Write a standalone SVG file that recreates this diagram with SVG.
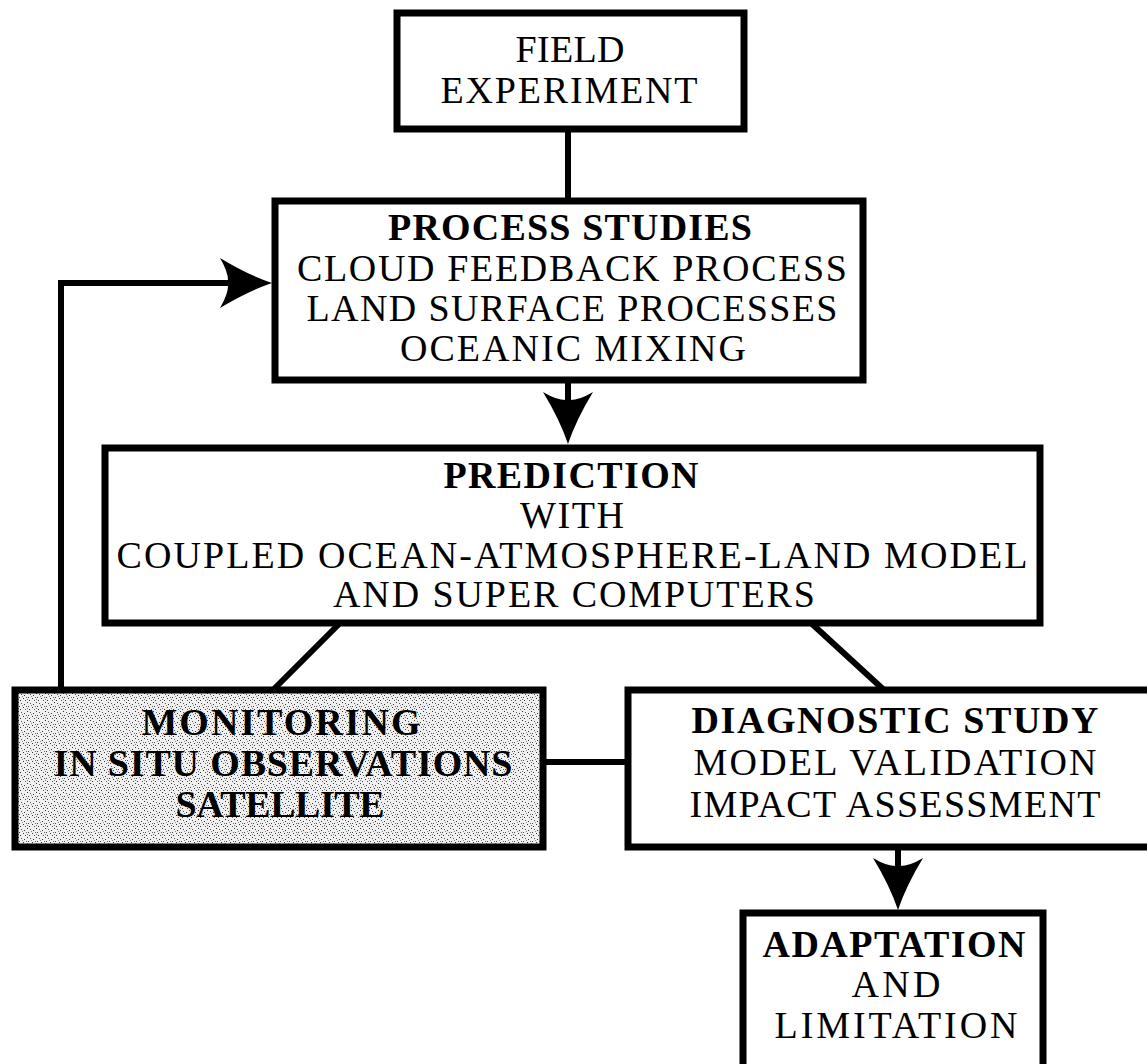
<svg xmlns="http://www.w3.org/2000/svg" width="1147" height="1064" viewBox="0 0 1147 1064">
<style>
.box{fill:#fff;stroke:#000;stroke-width:7;stroke-linejoin:miter}
.shade{fill:url(#stipple);stroke:#000;stroke-width:7}
.conn{fill:none;stroke:#000;stroke-width:6;stroke-linejoin:miter;stroke-linecap:butt}
text{font-family:"Liberation Serif","Times New Roman",serif;font-size:38px;fill:#000;text-anchor:middle}
.b{font-weight:bold}
</style>
<defs>
<pattern id="stipple" width="9" height="9" patternUnits="userSpaceOnUse">
<rect width="9" height="9" fill="#f0f0f0"/>
<rect x="0" y="0" width="1" height="1" fill="#333"/>
<rect x="3" y="1" width="1" height="1" fill="#555"/>
<rect x="6" y="2" width="1" height="1" fill="#333"/>
<rect x="1" y="4" width="1" height="1" fill="#444"/>
<rect x="5" y="5" width="1" height="1" fill="#333"/>
<rect x="8" y="4" width="1" height="1" fill="#666"/>
<rect x="2" y="7" width="1" height="1" fill="#333"/>
<rect x="7" y="7" width="1" height="1" fill="#555"/>
<rect x="4" y="3" width="1" height="1" fill="#888"/>
<rect x="0" y="6" width="1" height="1" fill="#777"/>
</pattern>
<marker id="arrow" markerUnits="userSpaceOnUse" orient="auto" viewBox="-54 -27 56 54" markerWidth="56" markerHeight="54" refX="-44" refY="0">
<path d="M0,0 Q-24,-8 -52,-25 Q-43,-10 -44,0 Q-43,10 -52,25 Q-24,8 0,0 Z" fill="#000"/>
</marker>
</defs>

<g id="connectors">
<line class="conn" x1="568" y1="129" x2="568" y2="201"/>
<line class="conn" x1="568" y1="380" x2="568" y2="400" marker-end="url(#arrow)"/>
<path class="conn" d="M61,690 V283 H228" marker-end="url(#arrow)"/>
<line class="conn" x1="340" y1="623" x2="273" y2="690"/>
<line class="conn" x1="811" y1="623" x2="884" y2="690"/>
<line class="conn" x1="543" y1="762" x2="628" y2="762"/>
<line class="conn" x1="898" y1="847" x2="898" y2="866" marker-end="url(#arrow)"/>
</g>

<g id="field-experiment">
<rect class="box" x="397" y="13" width="347" height="116"/>
<text x="570" y="62" textLength="109">FIELD</text>
<text x="569" y="103" textLength="257">EXPERIMENT</text>
</g>

<g id="process-studies">
<rect class="box" x="275" y="201" width="588" height="179"/>
<text class="b" x="570" y="240" textLength="364">PROCESS STUDIES</text>
<text x="572" y="281" textLength="550">CLOUD FEEDBACK PROCESS</text>
<text x="572" y="321" textLength="531">LAND SURFACE PROCESSES</text>
<text x="573" y="361" textLength="346">OCEANIC MIXING</text>
</g>

<g id="prediction">
<rect class="box" x="105" y="448" width="935" height="175"/>
<text class="b" x="571" y="488" textLength="255">PREDICTION</text>
<text x="572" y="528" textLength="104">WITH</text>
<text x="572" y="568" textLength="911">COUPLED OCEAN-ATMOSPHERE-LAND MODEL</text>
<text x="574" y="607" textLength="482">AND SUPER COMPUTERS</text>
</g>

<g id="monitoring">
<rect class="shade" x="15" y="690" width="528" height="157"/>
<text class="b" x="281" y="735" textLength="279">MONITORING</text>
<text class="b" x="283" y="776" textLength="459">IN SITU OBSERVATIONS</text>
<text class="b" x="280" y="817" textLength="209">SATELLITE</text>
</g>

<g id="diagnostic-study">
<rect class="box" x="628" y="690" width="532" height="157"/>
<text class="b" x="895" y="733" textLength="407">DIAGNOSTIC STUDY</text>
<text x="895" y="775" textLength="403">MODEL VALIDATION</text>
<text x="895" y="817" textLength="411">IMPACT ASSESSMENT</text>
</g>

<g id="adaptation">
<rect class="box" x="743" y="913" width="300" height="170"/>
<text class="b" x="894" y="957" textLength="263">ADAPTATION</text>
<text x="896" y="997" textLength="89">AND</text>
<text x="896" y="1038" textLength="243">LIMITATION</text>
</g>
</svg>
